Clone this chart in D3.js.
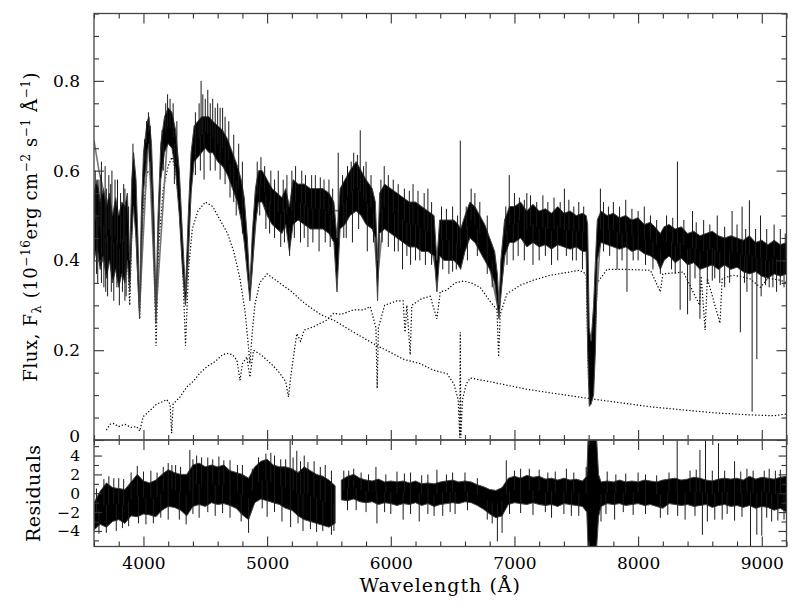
<!DOCTYPE html>
<html>
<head>
<meta charset="utf-8">
<script src="https://cdn.jsdelivr.net/npm/d3@7/dist/d3.min.js"></script>
<style>
body { margin: 0; background: #fff; }
text { font-family: "DejaVu Serif", serif; fill: #000; }
</style>
</head>
<body>
<svg id="chart"></svg>
<script>
// tick values / labels
const waveMajor = [4000, 5000, 6000, 7000, 8000, 9000];
const waveLabels = ["4000", "5000", "6000", "7000", "8000", "9000"];
const fluxMajor = [0, 0.2, 0.4, 0.6, 0.8];
const fluxLabels = ["0", "0.2", "0.4", "0.6", "0.8"];
const residMajor = [-4, -2, 0, 2, 4];
const residLabels = ["\u22124", "\u22122", "0", "2", "4"];

// observed spectrum, read as [wavelength, lower edge, upper edge] of the noisy band
const obsBand = [
  [3600,0.40,0.55],[3625,0.43,0.58],[3650,0.38,0.53],[3675,0.41,0.56],[3700,0.36,0.52],
  [3725,0.40,0.55],[3750,0.35,0.50],[3775,0.38,0.54],[3800,0.34,0.50],[3825,0.37,0.53],
  [3850,0.35,0.52],[3870,0.40,0.55],[3889,0.33,0.40],[3905,0.45,0.58],[3920,0.52,0.64],
  [3940,0.45,0.58],[3955,0.35,0.45],[3968,0.27,0.30],[3982,0.40,0.50],[4000,0.55,0.64],
  [4030,0.64,0.71],[4045,0.66,0.72],[4065,0.55,0.66],[4085,0.40,0.50],[4101,0.26,0.30],
  [4118,0.42,0.50],[4140,0.58,0.66],[4170,0.64,0.72],[4200,0.66,0.74],[4230,0.65,0.73],
  [4260,0.60,0.69],[4290,0.50,0.60],[4315,0.38,0.46],[4340,0.30,0.33],[4362,0.40,0.50],
  [4385,0.55,0.64],[4410,0.62,0.70],[4440,0.63,0.71],[4470,0.64,0.72],[4500,0.65,0.72],
  [4530,0.64,0.72],[4560,0.64,0.71],[4600,0.62,0.70],[4640,0.61,0.69],[4680,0.59,0.67],
  [4720,0.56,0.64],[4760,0.53,0.61],[4790,0.49,0.58],[4815,0.44,0.54],[4840,0.37,0.45],
  [4861,0.31,0.34],[4880,0.38,0.46],[4905,0.48,0.56],[4930,0.53,0.60],[4960,0.53,0.60],
  [5000,0.50,0.58],[5040,0.48,0.56],[5080,0.47,0.55],[5120,0.46,0.54],[5150,0.48,0.56],
  [5180,0.42,0.52],[5210,0.48,0.58],[5250,0.49,0.57],[5300,0.48,0.57],[5350,0.47,0.56],
  [5400,0.47,0.56],[5450,0.47,0.56],[5500,0.46,0.55],[5540,0.44,0.53],[5565,0.33,0.45],
  [5590,0.47,0.56],[5630,0.48,0.58],[5670,0.50,0.60],[5720,0.51,0.62],[5760,0.50,0.60],
  [5800,0.48,0.58],[5850,0.47,0.56],[5875,0.45,0.53],[5893,0.31,0.40],[5910,0.46,0.55],
  [5950,0.47,0.57],[6000,0.46,0.56],[6050,0.45,0.55],[6100,0.44,0.54],[6150,0.43,0.53],
  [6200,0.43,0.53],[6250,0.42,0.52],[6300,0.42,0.51],[6350,0.41,0.50],[6373,0.33,0.40],
  [6395,0.41,0.49],[6430,0.40,0.49],[6470,0.40,0.49],[6510,0.40,0.49],[6545,0.39,0.48],
  [6565,0.38,0.47],[6600,0.42,0.50],[6640,0.45,0.53],[6680,0.44,0.52],[6720,0.42,0.50],
  [6760,0.40,0.48],[6800,0.38,0.45],[6840,0.35,0.42],[6862,0.30,0.37],[6875,0.27,0.30],
  [6890,0.32,0.40],[6920,0.41,0.49],[6960,0.44,0.52],[7000,0.44,0.52],[7050,0.45,0.53],
  [7100,0.43,0.51],[7150,0.44,0.525],[7200,0.43,0.51],[7250,0.435,0.515],[7300,0.425,0.505],
  [7350,0.435,0.52],[7400,0.43,0.505],[7450,0.425,0.51],[7500,0.43,0.50],[7550,0.42,0.505],
  [7580,0.42,0.50],[7592,0.20,0.48],[7605,0.075,0.25],[7620,0.08,0.22],[7640,0.10,0.30],
  [7655,0.20,0.40],[7670,0.40,0.49],[7700,0.44,0.51],[7750,0.435,0.50],[7800,0.43,0.505],
  [7850,0.425,0.495],[7900,0.43,0.50],[7950,0.42,0.49],[8000,0.425,0.495],[8050,0.415,0.48],
  [8100,0.41,0.485],[8150,0.40,0.47],[8180,0.38,0.46],[8210,0.40,0.475],[8250,0.41,0.48],
  [8300,0.395,0.47],[8350,0.405,0.475],[8400,0.39,0.46],[8450,0.395,0.465],[8500,0.38,0.455],
  [8550,0.385,0.46],[8600,0.39,0.465],[8650,0.38,0.455],[8700,0.39,0.45],[8750,0.38,0.455],
  [8800,0.385,0.45],[8850,0.375,0.445],[8900,0.37,0.455],[8950,0.375,0.44],[9000,0.365,0.445],
  [9050,0.36,0.435],[9100,0.37,0.445],[9150,0.365,0.435],[9200,0.37,0.44]
];

// single-pixel spikes in the observed spectrum [wavelength, tip flux]
const obsSpikes = [
  [3610,0.60],[3640,0.58],[3660,0.62],[3690,0.61],[3720,0.59],[3745,0.60],[3790,0.58],
  [3840,0.57],[3915,0.66],[4040,0.73],[4195,0.77],[4215,0.76],[4466,0.80],[4480,0.77],
  [4520,0.78],[4560,0.76],[4600,0.75],[4640,0.74],[4950,0.63],[5090,0.60],[5200,0.60],
  [5280,0.60],[5360,0.59],[5460,0.58],[5575,0.64],[5700,0.64],[5753,0.69],[5800,0.62],
  [5947,0.61],[6020,0.58],[6180,0.57],[6300,0.56],[6562,0.667],[6650,0.56],[6958,0.59],
  [7100,0.55],[7230,0.545],[7404,0.56],[7520,0.53],[7695,0.56],[7800,0.53],[7900,0.535],
  [8050,0.52],[8318,0.62],[8440,0.51],[8640,0.50],[8760,0.51],[8841,0.52],[8900,0.534],
  [8990,0.50],[9100,0.48],
  [3630,0.35],[3680,0.34],[3710,0.32],[3760,0.31],[3805,0.30],[3860,0.32],[4490,0.58],
  [4700,0.54],[4750,0.50],[5020,0.46],[5110,0.43],[5182,0.41],[5270,0.44],[5330,0.43],
  [5420,0.42],[5620,0.45],[5690,0.44],[5810,0.42],[6030,0.42],[6095,0.38],[6160,0.39],
  [6235,0.40],[6470,0.37],[6530,0.38],[6990,0.40],[7150,0.39],[7300,0.39],[7470,0.40],
  [7550,0.38],[7830,0.38],[7910,0.33],[8000,0.40],[8180,0.37],[8340,0.29],[8400,0.28],
  [8420,0.31],[8500,0.27],[8560,0.35],[8620,0.36],[8700,0.34],[8827,0.24],[8922,0.063],
  [8960,0.18],[8995,0.32],[9060,0.34],[9120,0.33],[9180,0.34],
  // shorter whiskers along the band edges
  [3615,0.57],[3655,0.59],[3700,0.56],[3735,0.57],[3770,0.58],[3815,0.55],[3850,0.56],
  [3880,0.52],[3620,0.37],[3660,0.35],[3695,0.33],[3740,0.33],[3785,0.34],[3830,0.33],
  [3850,0.31],[4010,0.67],[4025,0.71],[4055,0.70],[4150,0.69],[4180,0.75],[4240,0.75],
  [4270,0.71],[4020,0.60],[4050,0.62],[4160,0.60],[4250,0.57],[4420,0.73],[4450,0.75],
  [4500,0.76],[4540,0.75],[4580,0.74],[4620,0.74],[4660,0.72],[4690,0.71],[4730,0.68],
  [4770,0.66],[4800,0.62],[4420,0.59],[4460,0.60],[4540,0.60],[4580,0.60],[4620,0.58],
  [4660,0.57],[4730,0.53],[4800,0.46],[4920,0.62],[4980,0.61],[5030,0.60],[5060,0.58],
  [5130,0.58],[5160,0.59],[5230,0.61],[5310,0.59],[5390,0.59],[5430,0.585],[5500,0.58],
  [5530,0.56],[4940,0.50],[4990,0.47],[5060,0.45],[5140,0.44],[5220,0.45],[5300,0.45],
  [5370,0.44],[5470,0.44],[5510,0.43],[5610,0.59],[5650,0.61],[5680,0.62],[5730,0.635],
  [5780,0.61],[5840,0.59],[5920,0.58],[5980,0.59],[6060,0.57],[6110,0.56],[6150,0.555],
  [6220,0.555],[6270,0.55],[6330,0.53],[6410,0.52],[6450,0.515],[6500,0.52],[6540,0.50],
  [5640,0.45],[5740,0.47],[5860,0.44],[5930,0.44],[5980,0.43],[6060,0.42],[6130,0.41],
  [6200,0.40],[6280,0.39],[6330,0.39],[6420,0.38],[6500,0.375],[6610,0.52],[6680,0.55],
  [6720,0.53],[6780,0.50],[6930,0.52],[7000,0.55],[7040,0.54],[7080,0.535],[7130,0.545],
  [7180,0.53],[7270,0.53],[7320,0.54],[7370,0.53],[7440,0.535],[7480,0.52],[7560,0.52],
  [6620,0.40],[6700,0.41],[6780,0.37],[6820,0.34],[6940,0.39],[7030,0.41],[7080,0.40],
  [7200,0.40],[7250,0.41],[7350,0.40],[7420,0.41],[7500,0.40],[7720,0.53],[7760,0.52],
  [7850,0.52],[7950,0.515],[8000,0.51],[8100,0.50],[8150,0.49],[8230,0.50],[8280,0.495],
  [8370,0.49],[8470,0.485],[8530,0.49],[8580,0.48],[8700,0.475],[8800,0.48],[8870,0.47],
  [8950,0.47],[9040,0.47],[9150,0.47],[9190,0.46],[7720,0.42],[7770,0.41],[7870,0.40],
  [7960,0.40],[8060,0.39],[8120,0.38],[8270,0.38],[8300,0.37],[8460,0.36],[8600,0.355],
  [8660,0.35],[8740,0.35],[8860,0.35],[8880,0.33],[9030,0.345],[9090,0.34],[9150,0.345],
  [9200,0.345]
];

// combined model fit (grey)
const modelFit = [
  [3600,0.667],[3640,0.60],[3690,0.54],[3750,0.46],[3800,0.44],[3850,0.45],[3889,0.36],
  [3920,0.58],[3968,0.29],[4040,0.68],[4101,0.28],[4200,0.70],[4260,0.65],[4340,0.31],
  [4400,0.65],[4500,0.68],[4600,0.66],[4700,0.62],[4800,0.53],[4861,0.33],[4930,0.56],
  [5000,0.54],[5100,0.50],[5180,0.46],[5250,0.53],[5400,0.515],[5600,0.51],[5720,0.56],
  [5850,0.515],[5893,0.36],[5950,0.52],[6100,0.49],[6300,0.465],[6373,0.37],[6400,0.45],
  [6563,0.425],[6640,0.49],[6760,0.44],[6870,0.29],[6950,0.48],[7300,0.47],[7580,0.46],
  [7610,0.10],[7660,0.30],[7700,0.47],[8000,0.455],[8180,0.42],[8300,0.435],[8600,0.425],
  [8900,0.41],[9200,0.405]
];

// hot (white dwarf) component, dotted
const hotStar = [
  [3600,0.44],[3700,0.45],[3770,0.46],[3797,0.40],[3810,0.47],[3835,0.38],[3855,0.50],
  [3889,0.30],[3915,0.55],[3940,0.52],[3970,0.27],[3995,0.50],[4030,0.60],[4055,0.59],
  [4080,0.45],[4102,0.21],[4125,0.44],[4160,0.56],[4200,0.61],[4230,0.63],[4260,0.60],
  [4290,0.52],[4315,0.40],[4340,0.21],[4365,0.38],[4395,0.47],[4440,0.51],[4500,0.53],
  [4560,0.52],[4620,0.49],[4680,0.46],[4730,0.42],[4780,0.36],[4820,0.29],[4845,0.22],
  [4861,0.17],[4877,0.23],[4900,0.30],[4940,0.35],[5000,0.37],[5100,0.35],[5200,0.33],
  [5300,0.305],[5430,0.28],[5550,0.265],[5700,0.24],[5888,0.21],[6000,0.195],[6100,0.18],
  [6238,0.17],[6350,0.155],[6454,0.148],[6510,0.125],[6545,0.09],[6558,0.005],[6562,0.24],
  [6566,0.005],[6580,0.09],[6610,0.125],[6643,0.138],[6800,0.13],[6940,0.122],[7100,0.113],
  [7316,0.104],[7590,0.093],[7800,0.085],[8100,0.074],[8400,0.066],[8640,0.06],[8900,0.056],
  [9100,0.054],[9200,0.058]
];

// cool (M dwarf) component, dotted
const coolStar = [
  [3700,0.022],[3730,0.035],[3756,0.037],[3800,0.03],[3850,0.035],[3900,0.028],[3945,0.03],
  [3970,0.02],[3998,0.052],[4050,0.065],[4107,0.08],[4150,0.085],[4188,0.09],[4215,0.08],
  [4228,0.015],[4240,0.08],[4296,0.096],[4350,0.118],[4400,0.13],[4460,0.15],[4512,0.163],
  [4580,0.175],[4640,0.19],[4674,0.193],[4720,0.19],[4755,0.178],[4781,0.133],[4800,0.17],
  [4836,0.185],[4861,0.14],[4890,0.20],[4950,0.19],[4998,0.178],[5050,0.165],[5105,0.148],
  [5150,0.13],[5173,0.096],[5195,0.15],[5240,0.237],[5270,0.22],[5300,0.245],[5374,0.252],
  [5430,0.26],[5483,0.267],[5537,0.282],[5600,0.28],[5700,0.29],[5780,0.29],[5834,0.297],
  [5880,0.25],[5890,0.115],[5900,0.25],[5950,0.30],[6049,0.31],[6100,0.31],[6115,0.24],
  [6130,0.30],[6157,0.19],[6170,0.30],[6250,0.315],[6319,0.32],[6373,0.27],[6400,0.33],
  [6454,0.334],[6520,0.35],[6587,0.354],[6650,0.35],[6723,0.34],[6800,0.31],[6859,0.29],
  [6872,0.185],[6885,0.28],[6940,0.326],[7050,0.345],[7153,0.356],[7290,0.367],[7400,0.372],
  [7524,0.378],[7580,0.37],[7600,0.12],[7640,0.15],[7670,0.35],[7748,0.38],[7900,0.38],
  [8100,0.378],[8180,0.33],[8200,0.37],[8366,0.374],[8498,0.30],[8510,0.365],[8542,0.245],
  [8560,0.36],[8662,0.26],[8680,0.36],[8771,0.367],[8900,0.36],[8990,0.34],[9050,0.36],
  [9152,0.356],[9200,0.35]
];

// residuals band [wavelength, lower, upper]; null marks the gap round 5577
const residBand = [
  [3600,-3.9,-1.0],[3650,-3.3,0.2],[3700,-3.6,1.1],[3750,-3.0,0.6],[3800,-2.8,0.5],
  [3850,-3.2,0.4],[3900,-2.4,1.2],[3950,-2.5,2.0],[4000,-2.2,1.3],[4050,-2.3,1.1],
  [4100,-2.5,1.4],[4150,-1.8,2.0],[4200,-1.4,2.5],[4250,-1.5,2.2],[4300,-1.8,2.0],
  [4350,-2.4,2.0],[4400,-1.4,3.0],[4450,-1.2,3.2],[4500,-1.4,2.8],[4550,-1.0,3.0],
  [4600,-1.2,2.8],[4650,-1.1,3.0],[4700,-1.3,2.4],[4750,-1.6,2.2],[4800,-2.3,2.0],
  [4850,-2.8,1.6],[4900,-1.0,2.8],[4950,-0.6,3.4],[5000,-0.8,3.6],[5050,-1.0,3.0],
  [5100,-1.2,2.8],[5150,-1.6,2.8],[5200,-1.8,2.6],[5250,-2.4,2.2],[5300,-2.8,2.8],
  [5350,-3.0,2.4],[5400,-3.2,2.0],[5450,-3.4,1.8],[5500,-3.6,1.4],[5550,-3.2,0.8],
  [5575,null,null],
  [5600,-0.7,1.4],[5650,-0.8,1.8],[5700,-0.6,2.0],[5750,-0.9,1.6],[5800,-1.0,1.4],
  [5850,-0.9,1.3],[5900,-1.2,1.5],[5950,-1.0,1.2],[6000,-1.1,1.3],[6050,-1.3,1.2],
  [6100,-1.1,1.3],[6150,-1.2,1.1],[6200,-1.0,1.3],[6250,-1.3,1.0],[6300,-1.1,1.1],
  [6350,-1.4,1.0],[6400,-1.2,1.2],[6450,-1.1,1.3],[6500,-1.0,1.4],[6550,-1.1,1.2],
  [6600,-0.9,1.3],[6650,-1.0,1.2],[6700,-1.3,0.9],[6750,-1.7,0.7],[6800,-2.2,0.4],
  [6850,-2.6,0.3],[6900,-2.4,0.6],[6950,-1.2,1.6],[7000,-1.0,1.8],[7050,-1.1,1.6],
  [7100,-1.2,1.9],[7150,-1.0,1.7],[7200,-1.2,1.8],[7250,-1.3,1.5],[7300,-1.2,1.6],
  [7350,-1.4,1.4],[7400,-1.1,1.6],[7450,-1.2,1.4],[7500,-1.3,1.5],[7550,-1.4,1.3],
  [7585,-2.0,1.8],[7595,-5.7,5.7],[7665,-5.7,5.7],[7680,-2.5,2.0],[7700,-1.4,1.2],
  [7750,-1.1,1.3],[7800,-1.2,1.2],[7850,-1.1,1.4],[7900,-1.3,1.2],[7950,-1.2,1.3],
  [8000,-1.1,1.2],[8050,-1.3,1.4],[8100,-1.2,1.3],[8150,-1.4,1.2],[8200,-1.6,1.4],
  [8250,-1.1,1.5],[8300,-1.2,1.6],[8350,-1.3,1.4],[8400,-1.2,1.5],[8450,-1.4,1.7],
  [8500,-1.3,1.6],[8550,-1.2,1.4],[8600,-1.5,1.3],[8650,-1.3,1.5],[8700,-1.2,1.6],
  [8750,-1.4,1.5],[8800,-1.3,1.6],[8850,-1.5,1.4],[8900,-1.3,1.8],[8950,-1.6,1.5],
  [9000,-1.4,1.7],[9050,-1.5,1.6],[9100,-1.8,1.5],[9150,-1.6,1.7],[9200,-2.0,1.8]
];

const residSpikes = [
  [3720,1.8],[3800,1.6],[3950,2.9],[4060,2.4],[4200,3.2],[4260,3.0],[4375,4.6],[4430,4.0],
  [4520,3.8],[4610,3.9],[4700,3.5],[4800,3.0],[4990,4.2],[5060,4.0],[5186,5.7],[5240,4.5],
  [5300,4.0],[5380,3.4],[5470,3.0],[5620,2.4],[5700,2.6],[5880,2.8],[6050,2.3],[6160,2.2],
  [6373,2.5],[6600,2.2],[6934,3.5],[7050,2.6],[7330,2.3],[7420,2.6],[7580,2.8],[7750,2.3],
  [8000,2.2],[8316,5.7],[8500,4.6],[8545,5.7],[8600,2.4],[8650,5.3],[8780,3.4],[8880,2.6],
  [9020,2.4],[9150,2.5],
  [3640,-4.3],[3780,-4.0],[3880,-3.5],[4020,-3.3],[4200,-2.8],[4345,-3.3],[4450,-2.6],
  [4580,-2.4],[4700,-2.6],[4850,-4.2],[5000,-2.5],[5120,-3.0],[5190,-3.6],[5290,-4.0],
  [5400,-4.1],[5520,-4.4],[5650,-1.8],[5888,-3.2],[6000,-2.2],[6100,-2.8],[6230,-3.0],
  [6420,-2.4],[6520,-2.2],[6780,-2.8],[6862,-5.1],[6900,-4.2],[7150,-2.3],[7300,-2.6],
  [7460,-2.4],[7700,-3.0],[7810,-2.8],[7960,-2.3],[8180,-2.6],[8380,-2.8],[8520,-4.4],
  [8560,-3.0],[8620,-2.8],[8780,-2.9],[8909,-5.7],[8960,-4.4],[9000,-4.5],[9080,-3.0],
  [9180,-2.8],
  // shorter whiskers
  [3620,0.5],[3680,1.5],[3760,1.6],[3840,1.5],[3900,2.2],[4000,2.3],[4110,2.2],[4160,2.8],
  [4230,3.0],[4300,2.8],[4400,3.6],[4470,3.8],[4560,3.6],[4650,3.5],[4760,3.0],[4880,2.6],
  [4930,3.8],[5030,4.3],[5110,3.6],[5150,3.6],[5210,3.8],[5270,3.4],[5330,3.3],[5430,2.8],
  [5520,2.4],[5660,2.4],[5760,2.2],[5820,2.0],[5960,2.0],[6110,2.1],[6250,1.9],[6300,2.0],
  [6450,2.0],[6500,2.2],[6700,1.6],[7000,2.4],[7120,2.6],[7200,2.5],[7270,2.2],[7480,2.2],
  [7820,2.0],[7900,2.1],[8060,2.0],[8150,1.9],[8250,2.2],[8420,2.4],[8470,2.5],[8700,2.4],
  [8830,2.3],[8930,2.4],[9060,2.6],[9110,2.4],
  [3700,-4.2],[3830,-3.7],[3960,-3.2],[4080,-3.2],[4140,-2.6],[4290,-2.8],[4400,-2.2],
  [4520,-2.0],[4640,-2.1],[4790,-3.0],[4960,-1.6],[5060,-2.0],[5250,-3.2],[5350,-3.8],
  [5450,-4.0],[5540,-4.0],[5720,-1.8],[5800,-2.0],[5950,-2.0],[6160,-2.2],[6300,-2.2],
  [6350,-2.4],[6480,-2.0],[6620,-1.8],[6820,-3.2],[6960,-2.2],[7050,-2.1],[7250,-2.0],
  [7400,-2.2],[7520,-2.4],[7740,-2.2],[7880,-2.0],[8060,-2.2],[8240,-2.3],[8320,-2.4],
  [8460,-2.4],[8680,-2.8],[8720,-2.2],[8840,-2.5],[9040,-2.6],[9130,-2.9],[9200,-3.0]
];

class SpectrumPlot
{
    left = 94; right = 786.5; top = 13.5; split = 440; bottom = 546.5;

    constructor(svg, width = 800, height = 616) {
        this.svg = svg;
        this.width = width;
        this.height = height;
    }

    initialize() {
        this.svg = d3.select(this.svg)
            .attr("width", this.width)
            .attr("height", this.height);

        this.x = d3.scaleLinear().domain([3600, 9200]).range([this.left, this.right]);
        this.yMain = d3.scaleLinear().domain([0, 0.95]).range([this.split, this.top]);
        this.yRes = d3.scaleLinear().domain([-5.65, 5.65]).range([this.bottom, this.split]);

        const defs = this.svg.append("defs");
        defs.append("clipPath").attr("id", "clipMain").append("rect")
            .attr("x", this.left).attr("y", this.top)
            .attr("width", this.right - this.left).attr("height", this.split - this.top);
        defs.append("clipPath").attr("id", "clipRes").append("rect")
            .attr("x", this.left).attr("y", this.split)
            .attr("width", this.right - this.left).attr("height", this.bottom - this.split);

        this.mainG = this.svg.append("g").attr("clip-path", "url(#clipMain)");
        this.resG = this.svg.append("g").attr("clip-path", "url(#clipRes)");
        this.axisG = this.svg.append("g");

        this.drawMain();
        this.drawResiduals();
        this.drawAxes();
        this.drawLabels();
    }

    // mid value of a band at wavelength w, for the spike bases
    bandMid(band, w) {
        const rows = band.filter(d => d[1] !== null);
        const i = d3.bisector(d => d[0]).left(rows, w);
        const a = rows[Math.max(0, i - 1)], b = rows[Math.min(rows.length - 1, i)];
        const t = b[0] === a[0] ? 0 : (w - a[0]) / (b[0] - a[0]);
        return ((a[1] + a[2]) / 2) * (1 - t) + ((b[1] + b[2]) / 2) * t;
    }

    drawMain() {
        const line = d3.line().x(d => this.x(d[0])).y(d => this.yMain(d[1]));

        [hotStar, coolStar].forEach(comp => {
            this.mainG.append("path")
                .attr("d", line(comp))
                .attr("fill", "none")
                .attr("stroke", "#000")
                .attr("stroke-width", 1.2)
                .attr("stroke-dasharray", "1.3 2");
        });

        this.mainG.append("path")
            .attr("d", line(modelFit))
            .attr("fill", "none")
            .attr("stroke", "#777")
            .attr("stroke-width", 1.6);

        const area = d3.area()
            .x(d => this.x(d[0]))
            .y0(d => this.yMain(d[1]))
            .y1(d => this.yMain(d[2]));

        this.mainG.append("path")
            .attr("d", area(obsBand))
            .attr("fill", "#000")
            .attr("stroke", "#444")
            .attr("stroke-width", 1);

        this.mainG.selectAll(".spike")
            .data(obsSpikes)
            .join("line")
            .attr("class", "spike")
            .attr("x1", d => this.x(d[0]))
            .attr("x2", d => this.x(d[0]))
            .attr("y1", d => this.yMain(this.bandMid(obsBand, d[0])))
            .attr("y2", d => this.yMain(d[1]))
            .attr("stroke", "#1a1a1a")
            .attr("stroke-width", 1);
    }

    drawResiduals() {
        const area = d3.area()
            .defined(d => d[1] !== null)
            .x(d => this.x(d[0]))
            .y0(d => this.yRes(d[1]))
            .y1(d => this.yRes(d[2]));

        this.resG.append("path")
            .attr("d", area(residBand))
            .attr("fill", "#000")
            .attr("stroke", "#444")
            .attr("stroke-width", 1);

        this.resG.selectAll(".rspike")
            .data(residSpikes)
            .join("line")
            .attr("class", "rspike")
            .attr("x1", d => this.x(d[0]))
            .attr("x2", d => this.x(d[0]))
            .attr("y1", d => this.yRes(this.bandMid(residBand, d[0])))
            .attr("y2", d => this.yRes(d[1]))
            .attr("stroke", "#1a1a1a")
            .attr("stroke-width", 1);
    }

    addAxis(axis, tx, ty, labelled, size = 17) {
        const g = this.axisG.append("g")
            .attr("transform", `translate(${tx},${ty})`)
            .call(axis);
        g.select(".domain").remove();
        g.selectAll("line").attr("stroke", "#333").attr("stroke-width", 1.1);
        g.selectAll("text")
            .attr("font-family", "DejaVu Serif, serif")
            .style("font-size", size + "px")
            .attr("fill", "#000");
        if (!labelled) g.selectAll("text").remove();
        return g;
    }

    drawAxes() {
        const waveMinor = d3.range(3600, 9201, 200).filter(v => v % 1000 !== 0);
        const fluxMinor = d3.range(0, 0.951, 0.05).filter(v => Math.abs(v * 5 - Math.round(v * 5)) > 1e-6);
        const resMinor = d3.range(-5, 5.1, 1).filter(v => v % 2 !== 0);

        const xLab = d => waveLabels[waveMajor.indexOf(d)];
        // bottom of residuals
        this.addAxis(d3.axisBottom(this.x).tickValues(waveMajor).tickSize(-10).tickPadding(10).tickFormat(xLab), 0, this.bottom, true);
        this.addAxis(d3.axisBottom(this.x).tickValues(waveMinor).tickSize(-5), 0, this.bottom, false);
        // top of main
        this.addAxis(d3.axisBottom(this.x).tickValues(waveMajor).tickSize(10), 0, this.top, false);
        this.addAxis(d3.axisBottom(this.x).tickValues(waveMinor).tickSize(5), 0, this.top, false);
        // shared edge: ticks both ways
        this.addAxis(d3.axisTop(this.x).tickValues(waveMajor).tickSize(10), 0, this.split, false);
        this.addAxis(d3.axisTop(this.x).tickValues(waveMinor).tickSize(5), 0, this.split, false);
        this.addAxis(d3.axisBottom(this.x).tickValues(waveMajor).tickSize(10), 0, this.split, false);
        this.addAxis(d3.axisBottom(this.x).tickValues(waveMinor).tickSize(5), 0, this.split, false);

        const fLab = d => fluxLabels[fluxMajor.indexOf(d)];
        const fAxis = this.addAxis(d3.axisLeft(this.yMain).tickValues(fluxMajor).tickSize(-10).tickPadding(14).tickFormat(fLab), this.left, 0, true);
        // lift the "0" a little so it clears the residual "4"
        fAxis.selectAll(".tick").filter(d => d === 0).select("text").attr("dy", "0.06em");
        this.addAxis(d3.axisLeft(this.yMain).tickValues(fluxMinor).tickSize(-5), this.left, 0, false);
        this.addAxis(d3.axisRight(this.yMain).tickValues(fluxMajor).tickSize(-10), this.right, 0, false);
        this.addAxis(d3.axisRight(this.yMain).tickValues(fluxMinor).tickSize(-5), this.right, 0, false);

        const rLab = d => residLabels[residMajor.indexOf(d)];
        this.addAxis(d3.axisLeft(this.yRes).tickValues(residMajor).tickSize(-8).tickPadding(14).tickFormat(rLab), this.left, 0, true, 15.5);
        this.addAxis(d3.axisLeft(this.yRes).tickValues(resMinor).tickSize(-5), this.left, 0, false);
        this.addAxis(d3.axisRight(this.yRes).tickValues(residMajor).tickSize(-8), this.right, 0, false);
        this.addAxis(d3.axisRight(this.yRes).tickValues(resMinor).tickSize(-5), this.right, 0, false);

        // frame
        [[this.top, this.split], [this.split, this.bottom]].forEach(([a, b]) => {
            this.axisG.append("rect")
                .attr("x", this.left).attr("y", a)
                .attr("width", this.right - this.left).attr("height", b - a)
                .attr("fill", "none").attr("stroke", "#444").attr("stroke-width", 1.3);
        });
    }

    drawLabels() {
        this.svg.append("text")
            .attr("x", (this.left + this.right) / 2)
            .attr("y", 592)
            .attr("text-anchor", "middle")
            .style("font-size", "19px")
            .style("letter-spacing", "1px")
            .text("Wavelength (\u00C5)");

        this.svg.append("text")
            .attr("transform", `translate(40,${(this.split + this.bottom) / 2}) rotate(-90)`)
            .attr("text-anchor", "middle")
            .style("font-size", "19px")
            .style("letter-spacing", "0.5px")
            .text("Residuals");

        const yl = this.svg.append("text")
            .attr("transform", `translate(37,${(this.top + this.split) / 2}) rotate(-90)`)
            .attr("text-anchor", "middle")
            .style("font-size", "18px")
            .style("letter-spacing", "0.6px");
        const parts = [
            ["Flux, F", 0, 18], ["\u03BB", 4, 13], [" (10", -4, 18], ["\u221216", -7, 12],
            ["erg cm", 7, 18], ["\u22122", -7, 12], [" s", 7, 18], ["\u22121", -7, 12],
            [" \u00C5", 7, 18], ["\u22121", -7, 12], [")", 7, 18]
        ];
        parts.forEach(([t, dy, fs]) => {
            yl.append("tspan").attr("dy", dy).style("font-size", fs + "px").text(t);
        });
    }
}

const plot = new SpectrumPlot(document.getElementById("chart"));
plot.initialize();
</script>
</body>
</html>
